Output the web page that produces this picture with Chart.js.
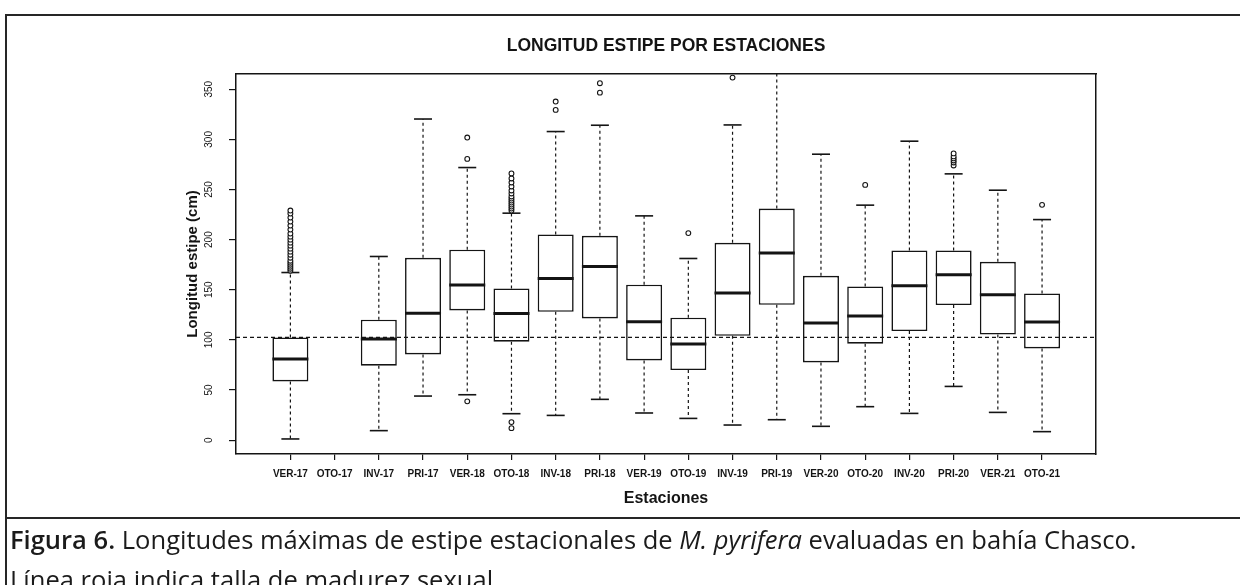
<!DOCTYPE html>
<html><head><meta charset="utf-8">
<script src="https://cdn.jsdelivr.net/npm/chart.js@4.4.1/dist/chart.umd.min.js"></script>
<style>
html,body{margin:0;padding:0;background:#fff;width:1240px;height:585px;overflow:hidden;}
#wrap{position:relative;width:1240px;height:585px;overflow:hidden;}
#c{position:absolute;left:0;top:0;width:1240px;height:520px;}
.fl{position:absolute;background:#262626;}
#cap{position:absolute;left:10px;top:518px;font-family:'Open Sans','Noto Sans',sans-serif;font-size:24px;line-height:40px;color:#1b1b1b;white-space:nowrap;}
#cap b{font-weight:600;}
</style></head>
<body><div id="wrap">
<canvas id="c" width="1240" height="520"></canvas>
<div class="fl" style="left:5px;top:14px;width:1235px;height:2px;"></div>
<div class="fl" style="left:5px;top:14px;width:2px;height:571px;"></div>
<div class="fl" style="left:5px;top:517px;width:1235px;height:2px;"></div>
<div id="cap"><span id="l1"><b>Figura 6.</b> Longitudes máximas de estipe estacionales de <i>M. pyrifera</i> evaluadas en bahía Chasco.</span><br>Línea roja indica talla de madurez sexual.</div>
</div>
<script>
const labels = ['VER-17','OTO-17','INV-17','PRI-17','VER-18','OTO-18','INV-18','PRI-18','VER-19','OTO-19','INV-19','PRI-19','VER-20','OTO-20','INV-20','PRI-20','VER-21','OTO-21'];
const whiskerLow  = [1.2, null, 9.5, 44.0, 45.3, 26.4, 24.7, 40.7, 27.1, 21.7, 15.1, 20.4, 13.8, 33.4, 26.7, 53.6, 27.7, 8.5];
const q1          = [58.6, null, 74.3, 85.5, 129.4, 98.2, 128.1, 121.4, 79.5, 70.0, 104.1, 135.0, 77.5, 96.2, 108.8, 134.7, 105.4, 91.5];
const median      = [80.9, null, 100.9, 126.7, 154.7, 126.4, 161.3, 173.2, 118.1, 95.8, 146.7, 186.6, 116.8, 123.8, 154.0, 164.9, 145.0, 117.8];
const q3          = [102.4, null, 120.1, 181.9, 189.9, 151.3, 205.1, 203.8, 155.0, 122.1, 196.8, 231.0, 163.9, 153.3, 189.2, 189.2, 177.9, 146.3];
const whiskerHigh = [167.2, null, 183.2, 320.3, 271.9, 226.4, 307.8, 314.1, 223.7, 181.2, 314.4, 372.0, 285.2, 234.4, 298.2, 265.6, 249.3, 220.0];
const outliers = [
  [169,171,173,175,177,179,182,185,188,191,194,197,200,203,206,210,214,218,222,226,229],
  [],
  [],
  [],
  [38.7,280.5,301.8],
  [12,18,229,231,233,235,237,239,241,243,246,249,253,257,261,266],
  [329.4,337.7],
  [346.6,356],
  [],
  [206.5],
  [361.6],
  [],
  [],
  [254.6],
  [],
  [274,277,279,281,283,286],
  [],
  [234.7]
];
const refLine = 102.5;
const yTicks = [0,50,100,150,200,250,300,350];
const X_MIN = -1.23, X_MAX = 18.22, Y_MIN = -13.8, Y_MAX = 365.2;

const INK = '#141414';
const FONT = "'Liberation Sans', Arial, sans-serif";

const idx = labels.map((_, i) => i).filter(i => q1[i] !== null);
const boxData = idx.map(i => ({x: i, y: [q1[i], q3[i]]}));
const medData = idx.map(i => ({x: i, y: median[i]}));
const capData = idx.flatMap(i => [{x: i, y: whiskerLow[i]}, {x: i, y: whiskerHigh[i]}]);
const whiskData = idx.flatMap(i => [
  {x: i, y: q3[i]}, {x: i, y: whiskerHigh[i]}, {x: i, y: null},
  {x: i, y: q1[i]}, {x: i, y: whiskerLow[i]}, {x: i, y: null}
]);
const outData = outliers.flatMap((arr, i) => arr.map(v => ({x: i, y: v})));

new Chart(document.getElementById('c'), {
  type: 'bar',
  data: {
    datasets: [
      {type: 'line', data: whiskData, borderColor: INK, borderWidth: 1.2, borderDash: [3, 3], pointRadius: 0, spanGaps: false, order: 6, clip: 0},
      {type: 'bar', data: boxData, backgroundColor: '#ffffff', borderColor: INK, borderWidth: 1.6, borderSkipped: false, categoryPercentage: 1, barPercentage: 0.814, order: 5},
      {type: 'line', data: [{x: X_MIN, y: refLine}, {x: X_MAX, y: refLine}], borderColor: INK, borderWidth: 1.2, borderDash: [4, 3], pointRadius: 0, order: 4},
      {type: 'scatter', data: medData, pointStyle: 'line', pointRadius: 18, pointBorderWidth: 3, borderColor: INK, order: 3},
      {type: 'scatter', data: capData, pointStyle: 'line', pointRadius: 9, pointBorderWidth: 1.6, borderColor: INK, order: 2, clip: 0},
      {type: 'scatter', data: outData, pointStyle: 'circle', pointRadius: 2.4, pointBorderWidth: 1.1, borderColor: INK, backgroundColor: '#ffffff', order: 1}
    ]
  },
  options: {
    responsive: false,
    animation: false,
    events: [],
    layout: {padding: {left: 170, right: 144, top: 0, bottom: 12}},
    plugins: {
      legend: {display: false},
      tooltip: {enabled: false},
      title: {display: true, text: 'LONGITUD ESTIPE POR ESTACIONES', fullSize: false, color: INK,
        font: {family: FONT, size: 17.5, weight: 'bold'}, padding: {top: 36, bottom: 17}}
    },
    scales: {
      x: {
        type: 'linear', position: 'bottom', min: X_MIN, max: X_MAX, offset: false,
        afterBuildTicks: ax => { ax.ticks = labels.map((_, i) => ({value: i})); },
        afterFit: ax => { ax.height = 54; },
        ticks: {autoSkip: false, maxRotation: 0, minRotation: 0, padding: 8, color: INK,
          font: {family: FONT, size: 10, weight: 'bold'}, callback: v => labels[v] ?? ''},
        grid: {display: true, offset: false, drawOnChartArea: false, drawTicks: true, tickLength: 6, color: INK, lineWidth: 1.2},
        border: {display: true, color: INK, width: 1.5},
        title: {display: true, text: 'Estaciones', color: INK, font: {family: FONT, size: 16, weight: 'bold'}, padding: 0}
      },
      y: {
        type: 'linear', position: 'left', min: Y_MIN, max: Y_MAX, offset: false,
        afterBuildTicks: ax => { ax.ticks = yTicks.map(v => ({value: v})); },
        afterFit: ax => { ax.width = 66; },
        ticks: {minRotation: 90, maxRotation: 90, crossAlign: 'center', padding: 11, color: INK,
          font: {family: FONT, size: 10}},
        grid: {display: true, drawOnChartArea: false, drawTicks: true, tickLength: 7, color: INK, lineWidth: 1.2},
        border: {display: true, color: INK, width: 1.5},
        title: {display: true, text: 'Longitud estipe (cm)', color: INK, font: {family: FONT, size: 15, weight: 'bold'}, padding: {top: 14, bottom: 0}}
      },
      x2: {
        type: 'linear', position: 'top', display: true, min: 0, max: 1, offset: false,
        ticks: {display: false}, grid: {display: false},
        border: {display: true, color: INK, width: 1.5},
        afterFit: ax => { ax.height = 0; }
      },
      y2: {
        type: 'linear', position: 'right', display: true, min: 0, max: 1,
        ticks: {display: false}, grid: {display: false},
        border: {display: true, color: INK, width: 1.5},
        afterFit: ax => { ax.width = 0; }
      }
    }
  }
});

// fit caption line width to the reference
const cap = document.getElementById('cap');
const l1 = document.getElementById('l1');
let fs = 24;
cap.style.fontSize = fs + 'px';
const w = l1.getBoundingClientRect().width;
fs = fs * 1127 / w;
cap.style.fontSize = fs.toFixed(2) + 'px';
cap.style.top = (510.7 + 0.326 * fs).toFixed(1) + 'px';
</script>
</body></html>
